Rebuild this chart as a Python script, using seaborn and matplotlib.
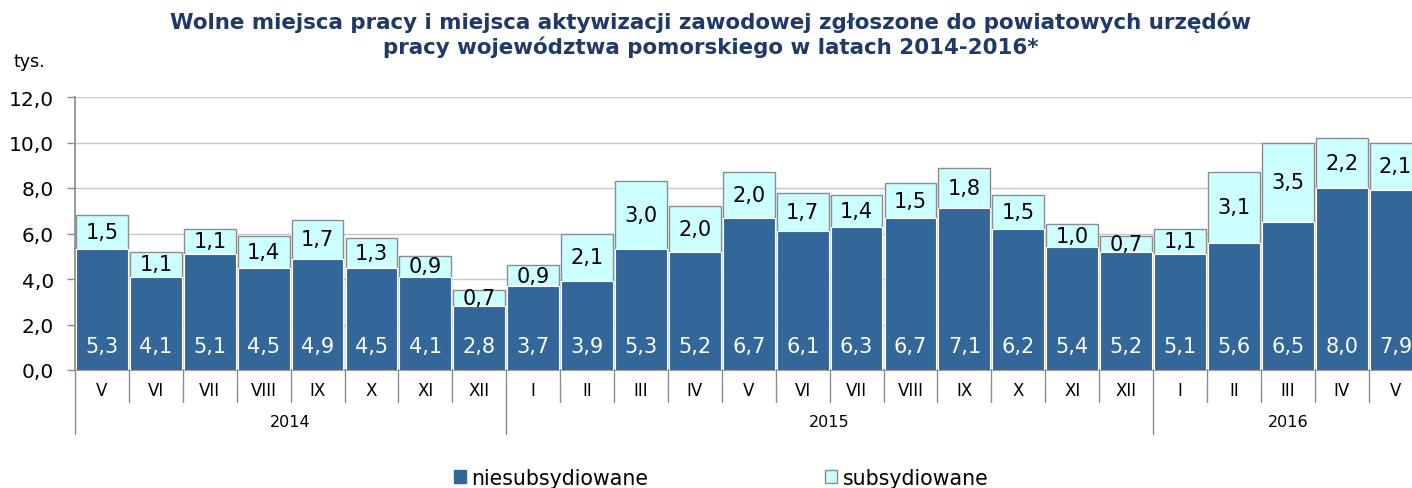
import matplotlib
matplotlib.use("Agg")
import matplotlib.pyplot as plt
import seaborn as sns
import pandas as pd
from matplotlib.patches import Patch
from matplotlib.lines import Line2D

months = ["V", "VI", "VII", "VIII", "IX", "X", "XI", "XII",
          "I", "II", "III", "IV", "V", "VI", "VII", "VIII", "IX", "X", "XI", "XII",
          "I", "II", "III", "IV", "V"]
years = ["2014"] * 8 + ["2015"] * 12 + ["2016"] * 5
niesub = [5.3, 4.1, 5.1, 4.5, 4.9, 4.5, 4.1, 2.8,
          3.7, 3.9, 5.3, 5.2, 6.7, 6.1, 6.3, 6.7, 7.1, 6.2, 5.4, 5.2,
          5.1, 5.6, 6.5, 8.0, 7.9]
sub = [1.5, 1.1, 1.1, 1.4, 1.7, 1.3, 0.9, 0.7,
       0.9, 2.1, 3.0, 2.0, 2.0, 1.7, 1.4, 1.5, 1.8, 1.5, 1.0, 0.7,
       1.1, 3.1, 3.5, 2.2, 2.1]
yticks = [0, 2, 4, 6, 8, 10, 12]

DARK = "#336699"
LIGHT = "#CCFFFF"
TITLE_C = "#1F3A68"

sns.set_theme(style="white")
plt.rcParams["font.family"] = ["DejaVu Sans"]
plt.rcParams["text.color"] = "black"

keys = [f"{y}-{m}" for y, m in zip(years, months)]
df = pd.DataFrame({"key": keys, "niesub": niesub, "sub": sub})
df["total"] = df["niesub"] + df["sub"]

W, H = 1412, 489
fig = plt.figure(figsize=(W / 100, H / 100), dpi=100)
left_px, right_px = 75, 75 + 25 * 53.9
top_px, bot_px = 98, 371
ax = fig.add_axes([left_px / W, (H - bot_px) / H, (right_px - left_px) / W, (bot_px - top_px) / H])

sns.barplot(data=df, x="key", y="total", color=LIGHT, width=0.96, edgecolor="#8C8C8C",
            linewidth=1.0, saturation=1, ax=ax, zorder=2)
sns.barplot(data=df, x="key", y="niesub", color=DARK, width=0.96, edgecolor="white",
            linewidth=0.8, saturation=1, ax=ax, zorder=3)

ax.set_xlim(-0.5, 24.5)
ax.set_ylim(0, 12)
ax.set_yticks(yticks)
ax.set_yticklabels([f"{v:.1f}".replace(".", ",") for v in yticks], fontsize=14.5, color="black")
ax.yaxis.grid(True, color="#C8C8C8", linewidth=1.0, zorder=0)
ax.set_axisbelow(True)
ax.set_xticks([])
ax.set_xlabel("")
ax.set_ylabel("")
for s in ["top", "right"]:
    ax.spines[s].set_visible(False)
ax.spines["left"].set_color("#8C8C8C")
ax.spines["bottom"].set_color("#8C8C8C")
ax.tick_params(axis="y", length=6, width=1, color="#8C8C8C", direction="out", pad=9, left=True)

for i in range(len(keys)):
    ax.text(i, 1.05, f"{niesub[i]:.1f}".replace(".", ","), ha="center", va="center",
            color="white", fontsize=15, zorder=5)
    ax.text(i, niesub[i] + sub[i] / 2, f"{sub[i]:.1f}".replace(".", ","), ha="center",
            va="center", color="black", fontsize=15, zorder=5)

# category table below the axis
tr = ax.get_xaxis_transform()
hpx = bot_px - top_px
row1 = -32 / hpx
row2 = -64 / hpx
for i, m in enumerate(months):
    ax.text(i, -20 / hpx, m, transform=tr, ha="center", va="center", fontsize=12,
            color="black", clip_on=False)
bounds = [i - 0.5 for i in range(len(months) + 1)]
year_bounds = [-0.5]
for i in range(1, len(years)):
    if years[i] != years[i - 1]:
        year_bounds.append(i - 0.5)
for b in bounds:
    low = row2 if b in year_bounds else row1
    ax.add_line(Line2D([b, b], [0, low], transform=tr, color="#8C8C8C", linewidth=1.0,
                       clip_on=False))
yb_full = year_bounds + [24.5]
for j in range(len(yb_full) - 1):
    yr = years[int(yb_full[j] + 0.5)]
    ax.text((yb_full[j] + yb_full[j + 1]) / 2, -52 / hpx, yr, transform=tr,
            ha="center", va="center", fontsize=11.5, color="black", clip_on=False)

fig.text(711 / W, 1 - 22 / H, "Wolne miejsca pracy i miejsca aktywizacji zawodowej zgłoszone do powiatowych urzędów",
         ha="center", va="center", fontsize=15.4, fontweight="bold", color=TITLE_C)
fig.text(711 / W, 1 - 47 / H, "pracy województwa pomorskiego w latach 2014-2016*",
         ha="center", va="center", fontsize=15.4, fontweight="bold", color=TITLE_C)
fig.text(13 / W, 1 - 62 / H, "tys.", ha="left", va="center", fontsize=12.5, color="black")

handles = [Patch(facecolor=DARK, edgecolor=DARK, label="niesubsydiowane"),
           Patch(facecolor=LIGHT, edgecolor="#8C8C8C", label="subsydiowane")]
leg = fig.legend(handles=handles, loc="center", bbox_to_anchor=(721 / W, 1 - 479 / H), ncol=2,
                 frameon=False, fontsize=14.8, handlelength=0.6, handleheight=0.6,
                 handletextpad=0.25, columnspacing=8.6, borderpad=0)
for t in leg.get_texts():
    t.set_color("black")

fig.savefig("out.png", dpi=100)
